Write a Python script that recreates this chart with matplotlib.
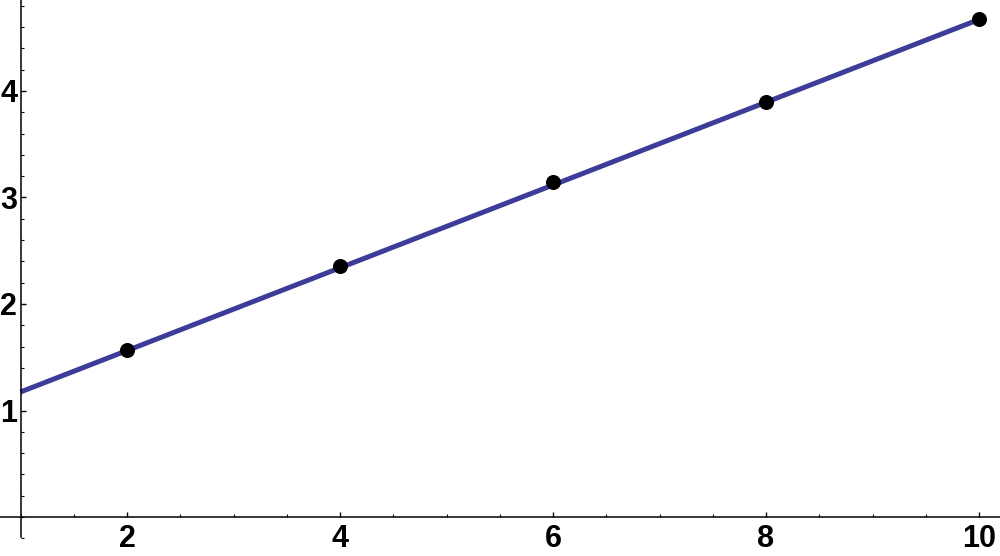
import numpy as np
import matplotlib.pyplot as plt
from matplotlib.ticker import MultipleLocator

# data
x_pts = [2, 4, 6, 8, 10]
y_pts = [1.568, 2.360, 3.143, 3.900, 4.671]

# straight line drawn from x=1 to x=10
line_x = [1, 10]
line_y = [1.174, 4.671]

plt.rcParams['font.family'] = ['Liberation Sans', 'DejaVu Sans']

fig = plt.figure(figsize=(10, 5.56), dpi=100)
ax = fig.add_axes([0, 0, 1, 1])

ax.plot(line_x, line_y, color='#3d3d99', lw=3.6, solid_capstyle='butt', zorder=2)
ax.plot(x_pts, y_pts, 'o', color='black', ms=9.8, zorder=3)

ax.set_xlim(0.8075, 10.197)
ax.set_ylim(-0.366, 4.854)

# axes cross at (1, 0), mathematica style
for s in ['top', 'right']:
    ax.spines[s].set_visible(False)
ax.spines['left'].set_position(('data', 1))
ax.spines['bottom'].set_position(('data', 0))
ax.spines['left'].set_bounds(-0.19, 4.854)
ax.spines['left'].set_linewidth(1.1)
ax.spines['bottom'].set_linewidth(1.1)

ax.set_xticks([2, 4, 6, 8, 10])
ax.set_yticks([1, 2, 3, 4])
ax.xaxis.set_minor_locator(MultipleLocator(0.5))
ax.yaxis.set_minor_locator(MultipleLocator(0.2))

ax.tick_params(which='major', direction='in', length=3.5, width=1)
ax.tick_params(which='minor', direction='in', length=2, width=0.8)
ax.tick_params(axis='x', which='major', pad=5, labelsize=22)
ax.tick_params(axis='y', which='major', pad=2.5, labelsize=22)
for lab in ax.get_xticklabels() + ax.get_yticklabels():
    lab.set_fontweight('bold')

ax.patch.set_alpha(0)
fig.savefig('out.png', dpi=100)
